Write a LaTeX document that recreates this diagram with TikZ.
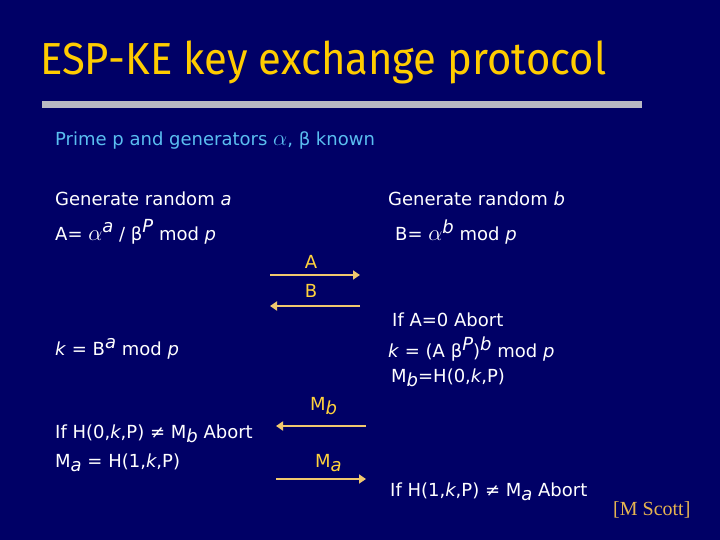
\documentclass[tikz,border=0pt]{standalone}
\usepackage{fontspec}
\setmainfont{DejaVu Sans}
\newfontfamily\titlefont{Fira Sans}
\newfontfamily\refont{Liberation Serif}
\usetikzlibrary{arrows.meta}
\definecolor{bg}{RGB}{0,0,102}
\definecolor{titley}{RGB}{255,204,0}
\definecolor{lblue}{RGB}{90,190,240}
\definecolor{arrowc}{RGB}{240,200,110}
\definecolor{lblc}{RGB}{255,210,60}
\definecolor{refc}{RGB}{230,180,80}
\definecolor{barc}{RGB}{185,185,195}
\newcommand{\sps}[1]{\raisebox{0.42em}{\itshape #1}}
\newcommand{\sbs}[1]{\raisebox{-0.25em}{\itshape #1}}
\newcommand{\alf}{\scalebox{1.3}{$\alpha$}}
\tikzset{
  body/.style={anchor=west, inner sep=0pt, text=white, font=\fontsize{18}{22}\selectfont},
  note/.style={body, text=lblue},
  lbl/.style={inner sep=0pt, text=lblc, font=\fontsize{18}{22}\selectfont},
  msg/.style={draw=arrowc, line width=2.4pt, -{Triangle[length=7pt,width=9pt]}},
}
\begin{document}
\begin{tikzpicture}[x=1pt,y=-1pt]
\fill[bg] (0,0) rectangle (720,540);
\useasboundingbox (0,0) rectangle (720,540);
\node[anchor=west, inner sep=0pt, text=titley, font=\titlefont\fontsize{44}{50}\selectfont] (title) at (40,62) {\scalebox{0.95}[1.02]{ESP-KE key exchange protocol}};
\fill[barc] (42,101) rectangle (642,108);
\node[note] (prime) at (55,140) {Prime p and generators \alf, β known};
\node[body] (gena) at (55,199) {Generate random \textit{a}};
\node[body] (Aeq) at (55,232) {A= \alf\sps{a} / β\sps{P} mod \textit{p}};
\node[body] (genb) at (388,199) {Generate random \textit{b}};
\node[body] (Beq) at (395,232) {B= \alf\sps{b} mod \textit{p}};
\node[body] (abort1) at (392,320) {If A=0 Abort};
\node[body] (kb) at (388,349) {\textit{k} = (A β\sps{P})\sps{b} mod \textit{p}};
\node[body] (Mb) at (391,378) {M\sbs{b}=H(0,\textit{k},P)};
\node[body] (ka) at (55,349) {\textit{k} = B\sps{a} mod \textit{p}};
\node[body] (chk1) at (55,434) {If H(0,\textit{k},P) ≠ M\sbs{b} Abort};
\node[body] (Ma) at (55,463) {M\sbs{a} = H(1,\textit{k},P)};
\node[body] (chk2) at (390,492) {If H(1,\textit{k},P) ≠ M\sbs{a} Abort};
\node[anchor=west, inner sep=0pt, text=refc, font=\refont\fontsize{20}{24}\selectfont] (ref) at (613,510) {[M Scott]};
% messages
\coordinate (a1) at (270,275); \coordinate (a2) at (360,275);
\coordinate (b1) at (360,306); \coordinate (b2) at (270,306);
\coordinate (c1) at (366,426); \coordinate (c2) at (276,426);
\coordinate (d1) at (276,479); \coordinate (d2) at (366,479);
\draw[msg] (a1) -- (a2);
\draw[msg] (b1) -- (b2);
\draw[msg] (c1) -- (c2);
\draw[msg] (d1) -- (d2);
\node[lbl] (la) at (311,262) {A};
\node[lbl] (lb) at (311,291) {B};
\node[lbl, anchor=west] (lmb) at (310,406) {M\sbs{b}};
\node[lbl, anchor=west] (lma) at (315,463) {M\sbs{a}};
\end{tikzpicture}
\end{document}
